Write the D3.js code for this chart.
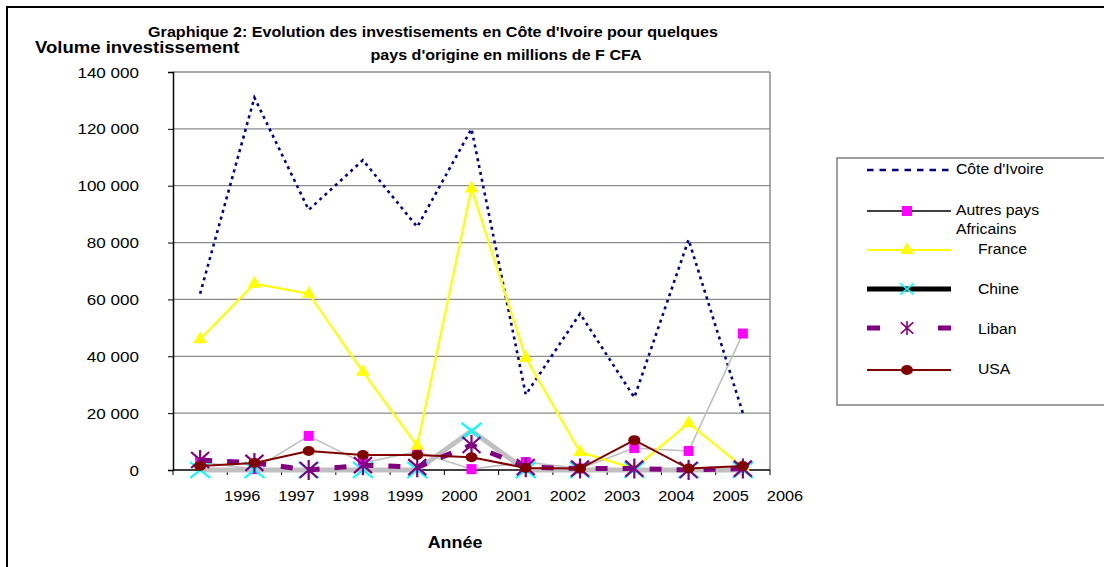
<!DOCTYPE html>
<html><head><meta charset="utf-8">
<script src="https://cdn.jsdelivr.net/npm/d3@7"></script>
<style>body{margin:0;background:#fff}svg{display:block;font-family:"Liberation Sans",Arial,sans-serif}</style>
</head><body><svg id="c" width="1104" height="567"></svg>
<script>
const tickLabels = ["1996","1997","1998","1999","2000","2001","2002","2003","2004","2005","2006"];
const yTicks = [0,20000,40000,60000,80000,100000,120000,140000];
const coteIvoire = [62000,131000,91500,109000,85500,120000,26500,55000,25500,81000,20000];
const autresAfricains = [2800,300,12000,2500,6500,300,2800,500,7700,6700,48000];
const france = [46000,65500,62000,34500,8500,99000,39500,6300,500,16500,1000];
const chine = [0,0,0,0,0,13800,0,0,0,0,0];
const liban = [3500,2500,0,1700,1000,8800,1000,500,500,0,500];
const usa = [1400,2500,6700,5300,5300,4500,700,500,10500,500,1400];
const seriesNames = ["Côte d'Ivoire","Autres pays Africains","France","Chine","Liban","USA"];

const svg = d3.select("#c");
const L=173,R=770,T=72,B=470;
const x = d3.scaleBand().domain(tickLabels).range([L,R]);
const y = d3.scaleLinear().domain([0,140000]).range([B,T]);
const cx = (i)=> x(tickLabels[i]) + x.bandwidth()/2;

// stretched text helper
function stext(parent,tx,ty,str,size,sx,anchor,bold){
  return parent.append("text").attr("transform",`translate(${tx},${ty}) scale(${sx},1)`)
    .attr("text-anchor",anchor||"start").attr("font-size",size)
    .attr("font-weight",bold?"bold":null).attr("fill","#000").text(str);
}

// outer frame
svg.append("rect").attr("x",7).attr("y",7).attr("width",1110).attr("height",580)
  .attr("fill","none").attr("stroke","#000").attr("stroke-width",2);

// gridlines
svg.append("g").selectAll("line").data(yTicks.filter(d=>d>0)).join("line")
  .attr("x1",L).attr("x2",R).attr("y1",d=>y(d)).attr("y2",d=>y(d))
  .attr("stroke","#8c8c8c").attr("stroke-width",1.3);
svg.append("line").attr("x1",R).attr("x2",R).attr("y1",T).attr("y2",B)
  .attr("stroke","#8c8c8c").attr("stroke-width",1.5);

// y axis (ticks via d3 axis, labels stretched)
const fmt = d=>d3.format(",")(d).replace(/,/g," ");
const yAxis = svg.append("g").attr("transform",`translate(${L},0)`)
  .call(d3.axisLeft(y).tickValues(yTicks).tickFormat("").tickSize(5));
yAxis.select(".domain").attr("stroke","#000").attr("stroke-width",1.5);
yAxis.selectAll(".tick line").attr("stroke","#000");
const yl = svg.append("g");
yTicks.forEach(v=>stext(yl,139,y(v)+5.5,fmt(v),15.5,1.1,"end"));

// x axis
const bounds = tickLabels.map(c=>x(c)).concat([R]);
svg.append("line").attr("x1",L).attr("x2",R).attr("y1",B).attr("y2",B).attr("stroke","#000").attr("stroke-width",1.5);
svg.append("g").selectAll("line").data(bounds).join("line")
  .attr("x1",d=>d).attr("x2",d=>d).attr("y1",B).attr("y2",B+5).attr("stroke","#000");
const xl = svg.append("g");
tickLabels.forEach(d=>stext(xl,x(d)+x.bandwidth()+15,B+31,d,15.3,1.07,"middle"));

// titles
stext(svg,433,37,"Graphique 2: Evolution des investisements en Côte d'Ivoire pour quelques",14,1.15,"middle",true);
stext(svg,506,60,"pays d'origine en millions de F CFA",14,1.15,"middle",true);
stext(svg,35,53,"Volume investissement",17,1.09,"start",true);
stext(svg,455,548,"Année",16,1.12,"middle",true);

// marker painters
function mSquare(g,c){g.append("rect").attr("x",-5).attr("y",-5).attr("width",10).attr("height",10).attr("fill",c);}
function mTri(g,c){g.append("path").attr("d",d3.symbol(d3.symbolTriangle,80)()).attr("fill",c);}
function mX(g,c){g.append("path").attr("d","M-10,-8L10,8M-10,8L10,-8").attr("stroke",c).attr("stroke-width",2.2).attr("fill","none");}
function mStar(g,c){g.append("path").attr("d","M-9,-8L9,8M-9,8L9,-8M0,-10L0,10").attr("stroke",c).attr("stroke-width",2.2).attr("fill","none");}
function mCircle(g,c){g.append("ellipse").attr("rx",6).attr("ry",5).attr("fill",c);}

const line = d3.line().x((d,i)=>cx(i)).y(d=>y(d));
const series = [
  {data:coteIvoire,stroke:"#000080",w:2.6,dash:"3,4",marker:null,mc:null},
  {data:autresAfricains,stroke:"#c0c0c0",w:1.6,dash:null,marker:mSquare,mc:"#ff00ff"},
  {data:france,stroke:"#ffff00",w:2.2,dash:null,marker:mTri,mc:"#ffff00"},
  {data:chine,stroke:"#c0c0c0",w:5,dash:null,marker:mX,mc:"#00ffff"},
  {data:liban,stroke:"#800080",w:5,dash:"12,15",marker:mStar,mc:"#800080"},
  {data:usa,stroke:"#800000",w:2,dash:null,marker:mCircle,mc:"#800000"}
];
const plot = svg.append("g");
series.forEach(s=>{
  plot.append("path").datum(s.data).attr("d",line).attr("fill","none")
    .attr("stroke",s.stroke).attr("stroke-width",s.w).attr("stroke-dasharray",s.dash);
  if(s.marker){
    s.data.forEach((v,i)=>{
      const g = plot.append("g").attr("transform",`translate(${cx(i)},${y(v)})`);
      s.marker(g,s.mc);
    });
  }
});

// legend
const lg = svg.append("g");
lg.append("rect").attr("x",837).attr("y",158).attr("width",300).attr("height",247)
  .attr("fill","#fff").attr("stroke","#808080").attr("stroke-width",1.5);
const legendItems = [
  {ly:170,stroke:"#000080",w:2.5,dash:"6.5,6",marker:null,mc:null,tx:956,lines:["Côte d'Ivoire"],ty:174},
  {ly:211,stroke:"#000",w:1.6,dash:null,marker:mSquare,mc:"#ff00ff",tx:956,lines:["Autres pays","Africains"],ty:215},
  {ly:250,stroke:"#ffff00",w:2,dash:null,marker:mTri,mc:"#ffff00",tx:978,lines:["France"],ty:254},
  {ly:289,stroke:"#000",w:5,dash:null,marker:mX,mc:"#00ffff",tx:978,lines:["Chine"],ty:294},
  {ly:328,stroke:"#800080",w:5,dash:"13,58",marker:mStar,mc:"#800080",tx:978,lines:["Liban"],ty:334},
  {ly:370,stroke:"#800000",w:2,dash:null,marker:mCircle,mc:"#800000",tx:978,lines:["USA"],ty:374}
];
legendItems.forEach(it=>{
  lg.append("line").attr("x1",867).attr("x2",951).attr("y1",it.ly).attr("y2",it.ly)
    .attr("stroke",it.stroke).attr("stroke-width",it.w).attr("stroke-dasharray",it.dash);
  if(it.marker){
    const g = lg.append("g").attr("transform",`translate(907,${it.ly})`+(it.marker===mX||it.marker===mStar?" scale(0.7)":""));
    it.marker(g,it.mc);
  }
  it.lines.forEach((t,k)=>stext(lg,it.tx,it.ty+k*19,t,15,1.05,"start"));
});
</script></body></html>
